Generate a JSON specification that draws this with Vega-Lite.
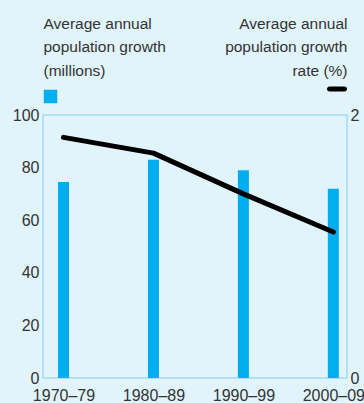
{
  "$schema": "https://vega.github.io/schema/vega-lite/v6.json",
  "width": 304,
  "height": 263,
  "autosize": {"type": "none"},
  "padding": {"left": 43, "top": 115, "right": 17, "bottom": 25},
  "background": "#e1f3fb",
  "config": {
    "font": "Liberation Sans",
    "view": {"stroke": "#a3dcf5", "strokeWidth": 1.5},
    "axis": {
      "labelFont": "Liberation Sans",
      "labelFontSize": 16,
      "labelColor": "#333333",
      "ticks": false,
      "domain": false,
      "grid": false,
      "titleFont": "Liberation Sans",
      "titleFontSize": 15.5,
      "titleFontWeight": "normal",
      "titleColor": "#333333",
      "titleLineHeight": 23.5
    },
    "legend": {"padding": 0}
  },
  "data": {
    "values": [
      {"decade": "1970–79", "millions": 74.5, "rate": 1.83},
      {"decade": "1980–89", "millions": 83, "rate": 1.71},
      {"decade": "1990–99", "millions": 79, "rate": 1.4},
      {"decade": "2000–09", "millions": 72, "rate": 1.11}
    ]
  },
  "encoding": {
    "x": {
      "field": "decade",
      "type": "ordinal",
      "sort": null,
      "scale": {"type": "point", "padding": 0.19, "align": 0.6},
      "axis": {
        "title": null,
        "labelAngle": 0,
        "labelPadding": 9,
        "labelBound": false,
        "labelOverlap": false,
        "labelFlush": false
      }
    }
  },
  "layer": [
    {
      "mark": {"type": "bar", "width": 11},
      "encoding": {
        "y": {
          "field": "millions",
          "type": "quantitative",
          "scale": {"domain": [0, 100], "nice": false},
          "axis": {
            "orient": "left",
            "values": [0, 20, 40, 60, 80, 100],
            "format": "d",
            "labelPadding": 4,
            "title": ["Average annual", "population growth", "(millions)"],
            "titleAngle": 0,
            "titleAlign": "left",
            "titleBaseline": "alphabetic",
            "titleX": 0,
            "titleY": -87
          }
        },
        "color": {
          "datum": "millions",
          "scale": {"range": ["#00aeef"]},
          "legend": {
            "orient": "none",
            "legendX": 0,
            "legendY": -26,
            "title": null,
            "labelExpr": "''",
            "symbolType": "square",
            "symbolSize": 182,
            "symbolOpacity": 1
          }
        }
      }
    },
    {
      "mark": {"type": "line", "strokeWidth": 5, "strokeCap": "round", "strokeJoin": "round"},
      "encoding": {
        "y": {
          "field": "rate",
          "type": "quantitative",
          "scale": {"domain": [0, 2], "nice": false},
          "axis": {
            "orient": "right",
            "values": [0, 1, 2],
            "format": "d",
            "labelPadding": 3,
            "title": ["Average annual", "population growth", "rate (%)"],
            "titleAngle": 0,
            "titleAlign": "right",
            "titleBaseline": "alphabetic",
            "titleX": 0,
            "titleY": -87
          }
        },
        "stroke": {
          "datum": "rate",
          "scale": {"range": ["#000000"]},
          "legend": {
            "orient": "none",
            "legendX": 284,
            "legendY": -36,
            "title": null,
            "labelExpr": "''",
            "symbolType": "M-0.75,-0.25L0.75,-0.25A0.25,0.25,0,0,1,0.75,0.25L-0.75,0.25A0.25,0.25,0,0,1,-0.75,-0.25Z",
            "symbolSize": 400,
            "symbolFillColor": "#000000",
            "symbolStrokeWidth": 0
          }
        }
      }
    }
  ],
  "resolve": {"scale": {"y": "independent", "color": "independent", "stroke": "independent"}}
}
